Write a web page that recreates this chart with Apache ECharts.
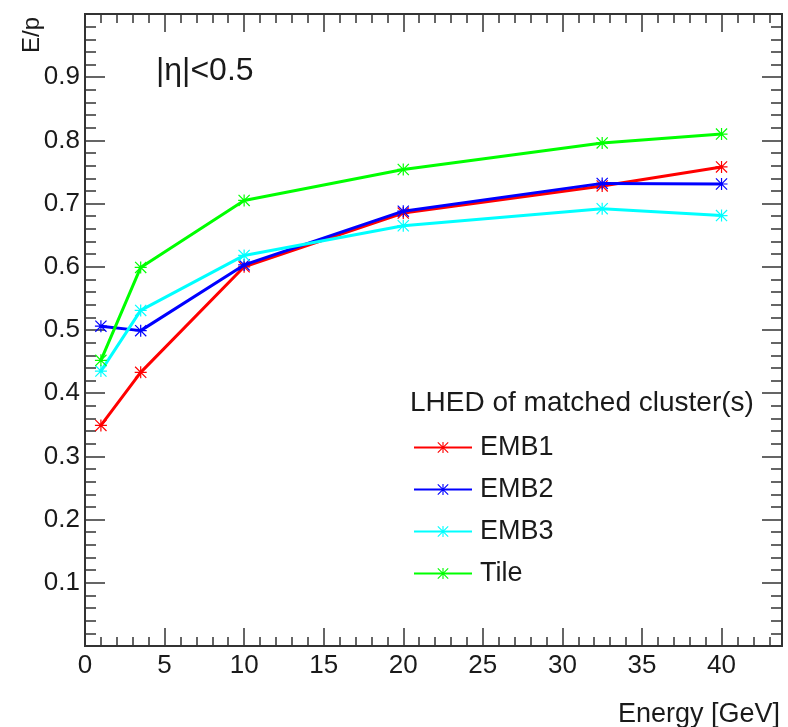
<!DOCTYPE html>
<html><head><meta charset="utf-8">
<script src="https://cdn.jsdelivr.net/npm/echarts@6/dist/echarts.min.js"></script>
<style>html,body{margin:0;padding:0;background:#fff}#c{width:788px;height:727px}</style>
</head><body><div id="c"></div>
<script>
const energies = [1, 3.5, 10, 20, 32.5, 40];
const emb1 = [0.349, 0.433, 0.600, 0.685, 0.728, 0.758];
const emb2 = [0.506, 0.499, 0.603, 0.688, 0.732, 0.731];
const emb3 = [0.435, 0.531, 0.618, 0.665, 0.692, 0.681];
const tile = [0.452, 0.599, 0.705, 0.754, 0.796, 0.810];
const seriesNames = ['EMB1', 'EMB2', 'EMB3', 'Tile'];
const seriesColors = ['#ff0000', '#0000ff', '#00ffff', '#00ff00'];
const seriesValues = [emb1, emb2, emb3, tile];

const FONT = '"Liberation Sans", Arial, Helvetica, sans-serif';
const TXT = '#1a1a1a';
const AX = '#333333';
const star = 'path://M9 0L11 0L11 20L9 20Z M0 9L20 9L20 11L0 11Z M1.4 0L20 18.6L18.6 20L0 1.4Z M18.6 0L20 1.4L1.4 20L0 18.6Z';

const XMIN = 0, XMAX = 43.8, YMIN = 0, YMAX = 1.0;
function xAx(pos, interval, len, labels) {
  return {
    type: 'value', position: pos, min: XMIN, max: XMAX, interval: interval,
    axisLine: { show: true, onZero: false, lineStyle: { color: AX, width: 2 } },
    axisTick: { show: true, inside: true, length: len, lineStyle: { color: AX, width: 1.5 } },
    axisLabel: labels ? { show: true, margin: 7, fontSize: 26, fontFamily: FONT, color: TXT,
      showMaxLabel: false, formatter: v => String(v) } : { show: false },
    splitLine: { show: false }
  };
}
function yAx(pos, interval, len, labels) {
  return {
    type: 'value', position: pos, min: YMIN, max: YMAX, interval: interval,
    axisLine: { show: true, onZero: false, lineStyle: { color: AX, width: 2 } },
    axisTick: { show: true, inside: true, length: len, lineStyle: { color: AX, width: 1.5 } },
    axisLabel: labels ? { show: true, margin: 5, fontSize: 26, fontFamily: FONT, color: TXT,
      formatter: v => (v <= 0.0001 || v >= 0.9999) ? '' : v.toFixed(1) } : { show: false },
    splitLine: { show: false }
  };
}

const chart = echarts.init(document.getElementById('c'), null, { renderer: 'canvas' });
chart.setOption({
  backgroundColor: '#ffffff',
  animation: false,
  grid: { left: 85, right: 6, top: 14, bottom: 81, containLabel: false },
  xAxis: [
    xAx('bottom', 5, 18, true),
    xAx('bottom', 1, 9, false),
    xAx('top', 5, 18, false),
    xAx('top', 1, 9, false)
  ],
  yAxis: [
    yAx('left', 0.1, 20, true),
    yAx('left', 0.02, 11, false),
    yAx('right', 0.1, 20, false),
    yAx('right', 0.02, 11, false)
  ],
  legend: {
    orient: 'vertical', left: 408, top: 429,
    itemWidth: 58, itemHeight: 14, itemGap: 15,
    data: seriesNames,
    textStyle: { fontSize: 27, fontFamily: FONT, color: TXT, lineHeight: 24, padding: [0, 0, 0, 3] }
  },
  series: seriesNames.map((n, i) => ({
    name: n, type: 'line', xAxisIndex: 0, yAxisIndex: 0,
    data: energies.map((e, j) => [e, seriesValues[i][j]]),
    symbol: star, symbolSize: 12, showSymbol: true,
    lineStyle: { color: seriesColors[i], width: 3 },
    itemStyle: { color: seriesColors[i] },
    z: 3 + i
  })),
  graphic: [
    { type: 'text', left: 410, top: 389, style: { text: 'LHED of matched cluster(s)', fontSize: 28, fontFamily: FONT, fill: TXT } },
    { type: 'text', left: 156, top: 55, style: { text: '|η|<0.5', fontSize: 32, fontFamily: FONT, fill: TXT } },
    { type: 'text', right: 8, top: 701, style: { text: 'Energy [GeV]', fontSize: 27, fontFamily: FONT, fill: TXT } },
    { type: 'text', x: 20, y: 53, rotation: Math.PI / 2, style: { text: 'E/p', fontSize: 24, fontFamily: FONT, fill: TXT, verticalAlign: 'top' } }
  ]
});
</script></body></html>
